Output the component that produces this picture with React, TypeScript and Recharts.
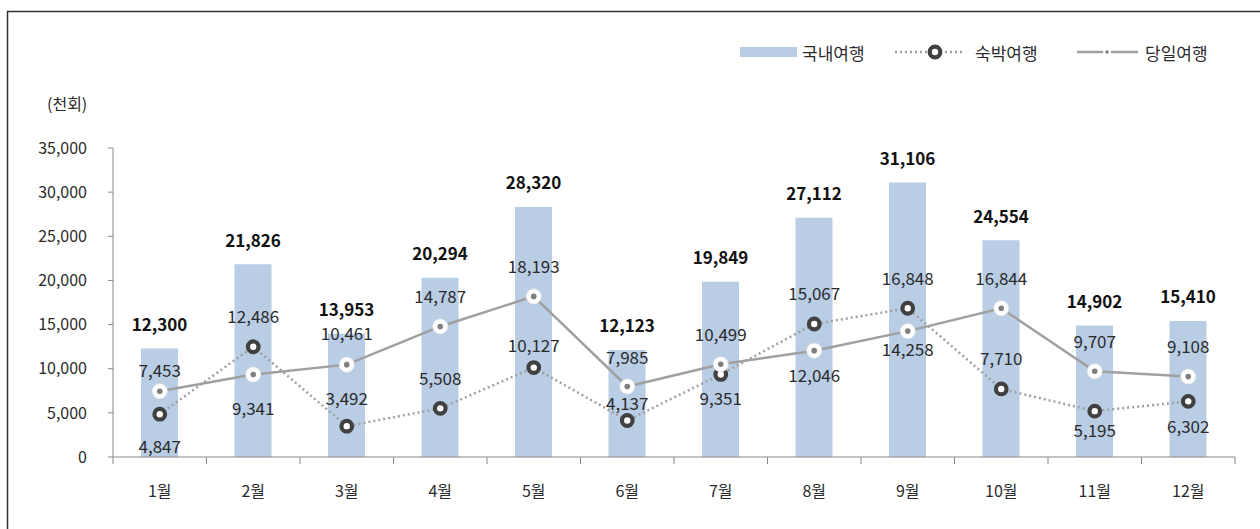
import React from "react";
import { ComposedChart, Bar, Line, XAxis, YAxis, LabelList } from "recharts";

const months = ["1월", "2월", "3월", "4월", "5월", "6월", "7월", "8월", "9월", "10월", "11월", "12월"];
const totalTrips = [12300, 21826, 13953, 20294, 28320, 12123, 19849, 27112, 31106, 24554, 14902, 15410];
const overnightTrips = [4847, 12486, 3492, 5508, 10127, 4137, 9351, 15067, 16848, 7710, 5195, 6302];
const dayTrips = [7453, 9341, 10461, 14787, 18193, 7985, 10499, 12046, 14258, 16844, 9707, 9108];
const yTicks = [0, 5000, 10000, 15000, 20000, 25000, 30000, 35000];

// label placement (offset from the point, px) – above/below like the original
const dayLabelDy = [-22, 33, -32, -31, -31, -30, -31, 24, 17, -31, -31, -31];
const overnightLabelDy = [31, -31, -29, -31, -23, -18, 23, -31, -31, -31, 18, 24];

const W = 1260;
const H = 529;
const margin = { top: 148, right: 25, bottom: 0, left: 0 };
const yAxisWidth = 113;
const xAxisHeight = 72;
const halfBand = (W - margin.right - yAxisWidth) / months.length / 2;

const FONT = "'Noto Sans CJK KR', 'Noto Sans', sans-serif";
const BAR_COLOR = "#b9cde5";
const LINE_COLOR = "#a0a0a0";
const RING_COLOR = "#404040";
const TEXT_COLOR = "#2b2b2b";

const data = months.map((m, i) => ({
  month: m,
  total: totalTrips[i],
  overnight: overnightTrips[i],
  day: dayTrips[i],
}));

const fmt = (v: number) => v.toLocaleString("en-US");

const OvernightDot = (props: any) => {
  const { cx, cy } = props;
  if (cx == null || cy == null) return null;
  return <circle cx={cx} cy={cy} r={5.3} fill="#fff" stroke={RING_COLOR} strokeWidth={4.2} />;
};

const DayDot = (props: any) => {
  const { cx, cy } = props;
  if (cx == null || cy == null) return null;
  return (
    <g>
      <circle cx={cx} cy={cy} r={7.5} fill="#fff" stroke="#e6e6e6" strokeWidth={0.8} />
      <circle cx={cx} cy={cy} r={2.8} fill="#7f7f7f" />
    </g>
  );
};

const makeLineLabel = (offsets: number[]) => (props: any) => {
  const { x, y, value, index } = props;
  return (
    <text
      x={x}
      y={y + offsets[index]}
      textAnchor="middle"
      dominantBaseline="central"
      fontFamily={FONT}
      fontSize={17}
      fill={TEXT_COLOR}
    >
      {fmt(value)}
    </text>
  );
};

const TotalLabel = (props: any) => {
  const { x, y, width, value } = props;
  return (
    <text
      x={x + width / 2}
      y={y - 25}
      textAnchor="middle"
      dominantBaseline="central"
      fontFamily={FONT}
      fontSize={17}
      fontWeight="bold"
      fill="#111"
    >
      {fmt(value)}
    </text>
  );
};

// Excel style: tick marks sit between categories, label in the middle
const MonthTick = (props: any) => {
  const { x, y, payload, index } = props;
  const last = index === months.length - 1;
  return (
    <g>
      <line x1={x - halfBand} x2={x - halfBand} y1={y - 7} y2={y} stroke="#888" />
      {last && <line x1={x + halfBand} x2={x + halfBand} y1={y - 7} y2={y} stroke="#888" />}
      <text
        x={x}
        y={y + 26}
        textAnchor="middle"
        dominantBaseline="central"
        fontFamily={FONT}
        fontSize={16}
        fill={TEXT_COLOR}
      >
        {payload.value}
      </text>
    </g>
  );
};

function Overlay() {
  return (
    <svg width={W} height={H} style={{ position: "absolute", left: 0, top: 0, pointerEvents: "none" }}>
      <path d={`M7.5 ${H + 5} V11.5 H${W + 5}`} fill="none" stroke="#333" strokeWidth={1.5} />
      <text x={47} y={103} dominantBaseline="central" fontFamily={FONT} fontSize={16} fill={TEXT_COLOR}>
        (천회)
      </text>
      {/* legend */}
      <rect x={740} y={47} width={57} height={10} fill={BAR_COLOR} />
      <text x={802} y={52} dominantBaseline="central" fontFamily={FONT} fontSize={17} fill={TEXT_COLOR}>
        국내여행
      </text>
      <line x1={895} x2={962} y1={52} y2={52} stroke={LINE_COLOR} strokeWidth={2.5} strokeDasharray="2 3" />
      <OvernightDot cx={935} cy={52} />
      <text x={975} y={52} dominantBaseline="central" fontFamily={FONT} fontSize={17} fill={TEXT_COLOR}>
        숙박여행
      </text>
      <line x1={1077} x2={1138} y1={52} y2={52} stroke={LINE_COLOR} strokeWidth={2.5} />
      <circle cx={1107} cy={52} r={4} fill="#fff" />
      <circle cx={1107} cy={52} r={1.8} fill="#7f7f7f" />
      <text x={1145} y={52} dominantBaseline="central" fontFamily={FONT} fontSize={17} fill={TEXT_COLOR}>
        당일여행
      </text>
    </svg>
  );
}

export default function App() {
  return (
    <div style={{ position: "absolute", left: 0, top: 0, width: W, height: H, background: "#fff" }}>
      <ComposedChart width={W} height={H} data={data} margin={margin}>
        <XAxis
          dataKey="month"
          height={xAxisHeight}
          axisLine={{ stroke: "#888" }}
          tickLine={false}
          tickSize={7}
          tickMargin={0}
          interval={0}
          tick={<MonthTick />}
        />
        <YAxis
          width={yAxisWidth}
          domain={[0, 35000]}
          ticks={yTicks}
          interval={0}
          axisLine={{ stroke: "#888" }}
          tickLine={{ stroke: "#888" }}
          tickSize={5}
          tickMargin={21}
          tickFormatter={fmt}
          tick={{ fontFamily: FONT, fontSize: 16, fill: TEXT_COLOR }}
        />
        <Bar dataKey="total" fill={BAR_COLOR} barSize={37} isAnimationActive={false}>
          <LabelList dataKey="total" content={TotalLabel} />
        </Bar>
        <Line
          dataKey="overnight"
          stroke={LINE_COLOR}
          strokeWidth={2.5}
          strokeDasharray="2 3"
          dot={<OvernightDot />}
          activeDot={false}
          isAnimationActive={false}
        >
          <LabelList dataKey="overnight" content={makeLineLabel(overnightLabelDy)} />
        </Line>
        <Line
          dataKey="day"
          stroke={LINE_COLOR}
          strokeWidth={2.5}
          dot={<DayDot />}
          activeDot={false}
          isAnimationActive={false}
        >
          <LabelList dataKey="day" content={makeLineLabel(dayLabelDy)} />
        </Line>
      </ComposedChart>
      <Overlay />
    </div>
  );
}
